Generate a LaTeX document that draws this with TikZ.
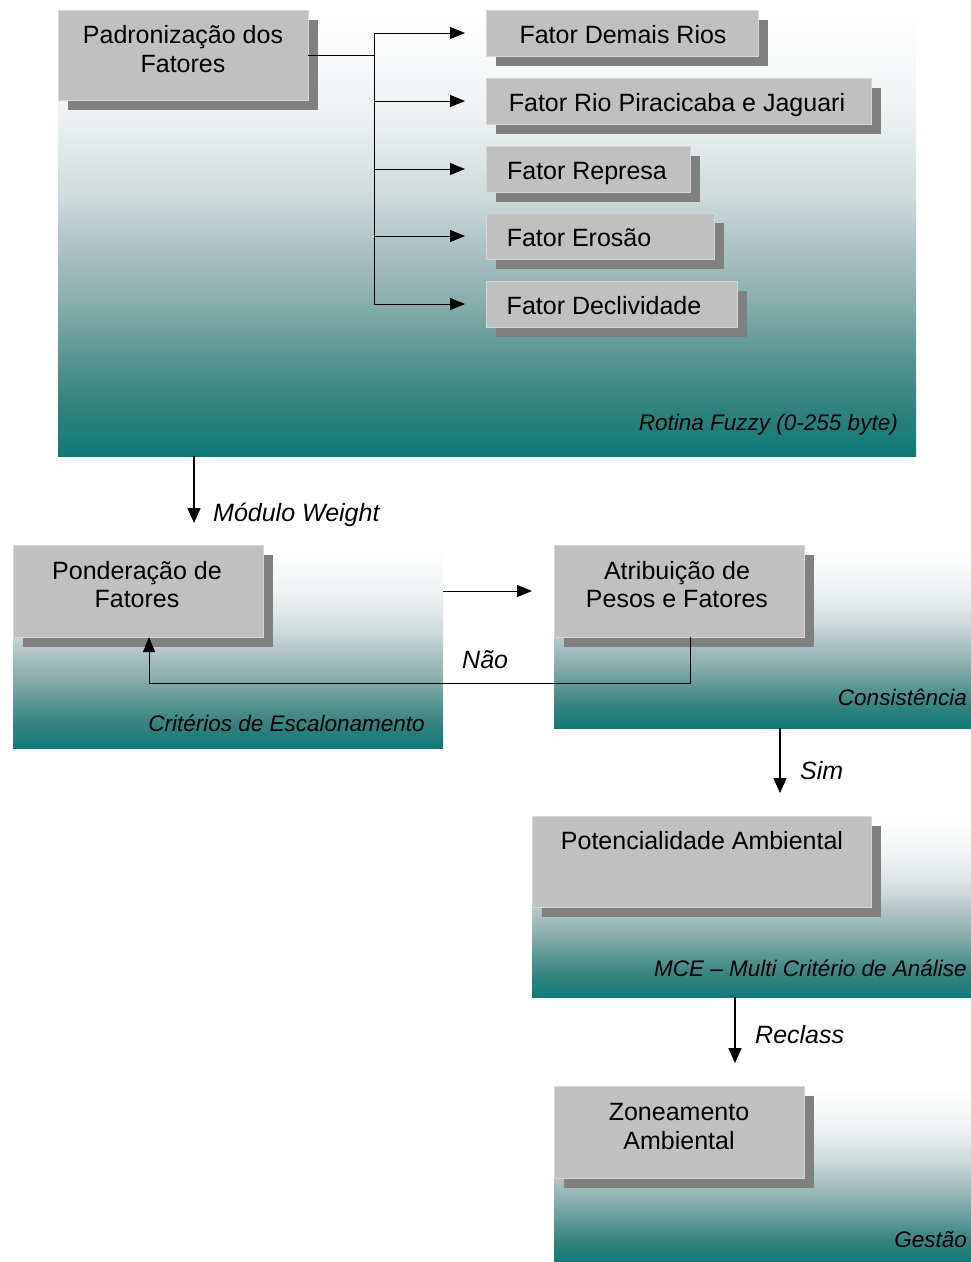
\documentclass[tikz,border=0pt]{standalone}
\usepackage{fontspec}
\setmainfont{Liberation Sans}
\usetikzlibrary{arrows.meta,shadows}
\definecolor{g100}{HTML}{0F7A78}
\definecolor{g87}{HTML}{37847F}
\definecolor{g76}{HTML}{5E9996}
\definecolor{g65}{HTML}{8AAFAD}
\definecolor{g54}{HTML}{AAC0C2}
\definecolor{g42}{HTML}{CDD9DA}
\definecolor{g31}{HTML}{E2E8E9}
\definecolor{g22}{HTML}{EFF3F4}
\definecolor{boxgray}{HTML}{C0C0C0}
\definecolor{boxedge}{HTML}{D6D6D6}
\definecolor{shadowgray}{HTML}{808080}
\pgfdeclareverticalshading{panelgrad}{100bp}{color(0bp)=(g100); color(25bp)=(g100); color(31.5bp)=(g87); color(37bp)=(g76); color(42.5bp)=(g65); color(48bp)=(g54); color(54bp)=(g42); color(59.5bp)=(g31); color(64bp)=(g22); color(75bp)=(white); color(100bp)=(white)}
\tikzset{
  panel/.style={shade, shading=panelgrad, draw=none, inner sep=0pt, outer sep=0pt, anchor=north west},
  box/.style={fill=boxgray, draw=boxedge, line width=0.8pt, inner sep=0pt, outer sep=0pt, anchor=north west,
    drop shadow={shadow xshift=10pt, shadow yshift=-10pt, fill=shadowgray, opacity=1}},
  boxtext/.style={font=\fontsize{25}{29}\selectfont, inner sep=0pt, anchor=base},
  labR/.style={font=\fontsize{22.5}{27}\selectfont\itshape, inner sep=0pt, anchor=base east},
  labL/.style={font=\fontsize{25}{29}\selectfont\itshape, inner sep=0pt, anchor=base west},
  thin/.style={line width=1pt, black},
  arr/.style={line width=1pt, black, -{Triangle[length=15pt, width=12pt]}},
  arrbig/.style={line width=1.6pt, black, -{Triangle[length=15pt, width=13pt]}}
}
\begin{document}
\begin{tikzpicture}[x=1pt,y=-1pt]
\useasboundingbox (0,0) rectangle (971,1262);
% panels
\node[panel, minimum width=858pt, minimum height=444pt] (p1) at (58,12) {};
\node[panel, minimum width=430pt, minimum height=200pt] (p2) at (13,548) {};
\node[panel, minimum width=417pt, minimum height=180pt] (p3) at (554,548) {};
\node[panel, minimum width=439pt, minimum height=179pt] (p4) at (532,818) {};
\node[panel, minimum width=417pt, minimum height=174pt] (p5) at (554,1088) {};
% boxes
\node[box, minimum width=250pt, minimum height=90pt] (padr) at (58,10) {};
\node[box, minimum width=272pt, minimum height=46pt] (f1) at (486,10) {};
\node[box, minimum width=385pt, minimum height=46pt] (f2) at (486,78) {};
\node[box, minimum width=204pt, minimum height=46pt] (f3) at (486,146) {};
\node[box, minimum width=228pt, minimum height=46pt] (f4) at (486,213) {};
\node[box, minimum width=251pt, minimum height=46pt] (f5) at (486,281) {};
\node[box, minimum width=250pt, minimum height=92pt] (pond) at (13,545) {};
\node[box, minimum width=250pt, minimum height=92pt] (attr) at (554,545) {};
\node[box, minimum width=339pt, minimum height=91pt] (pot) at (532,816) {};
\node[box, minimum width=250pt, minimum height=92pt] (zon) at (554,1086) {};
% box texts
\node[boxtext] (padrA) at (183,43) {Padronização dos};
\node[boxtext] (padrB) at (183,72) {Fatores};
\node[boxtext] (f1t) at (623,43) {Fator Demais Rios};
\node[boxtext] (f2t) at (677,111) {Fator Rio Piracicaba e Jaguari};
\node[boxtext] (f3t) at (587,179) {Fator Represa};
\node[boxtext] (f4t) at (579,246) {Fator Erosão};
\node[boxtext] (f5t) at (604,314) {Fator Declividade};
\node[boxtext] (pondA) at (137,579) {Ponderação de};
\node[boxtext] (pondB) at (137,607) {Fatores};
\node[boxtext] (attrA) at (677,579) {Atribuição de};
\node[boxtext] (attrB) at (677,607) {Pesos e Fatores};
\node[boxtext] (potA) at (702,849) {Potencialidade Ambiental};
\node[boxtext] (zonA) at (679,1120) {Zoneamento};
\node[boxtext] (zonB) at (679,1149) {Ambiental};
% panel labels
\node[labR] (l1) at (898,430) {Rotina Fuzzy (0-255 byte)};
\node[labR] (l2) at (425,731) {Critérios de Escalonamento};
\node[labR] (l3) at (967,705) {Consistência};
\node[labR] (l4) at (967,976) {MCE – Multi Critério de Análise};
\node[labR] (l5) at (967,1247) {Gestão};
% connectors: factors
\coordinate (bus) at (374,55);
\draw[thin] (padr.east) -- (bus);
\draw[thin] (bus |- f1.west) -- (bus |- f5.west);
\foreach \f in {f1,f2,f3,f4,f5}{
  \draw[arr, shorten >=21pt] (bus |- \f.west) -- (\f.west);
}
% Modulo Weight
\coordinate (mw) at (194,456);
\draw[arrbig, shorten >=25pt] (mw) -- (mw |- p2.north);
\node[labL] (mwl) at (213,521) {Módulo Weight};
% Ponderacao -> Atribuicao
\draw[arr, shorten >=22pt] (p2.east |- pond.east) -- (attr.west);
% Nao loop
\coordinate (naoA) at ([xshift=11pt]attr.south);
\coordinate (naoB) at ([xshift=11pt]pond.south);
\draw[arr] (naoA) -- ++(0,46) -| (naoB);
\node[labL] (naol) at (462,668) {Não};
% Sim
\coordinate (sim) at (780,728);
\draw[arrbig, shorten >=25pt] (sim) -- (sim |- p4.north);
\node[labL] (siml) at (800,779) {Sim};
% Reclass
\coordinate (rec) at (735,997);
\draw[arrbig, shorten >=25pt] (rec) -- (rec |- p5.north);
\node[labL] (recl) at (755,1043) {Reclass};
\end{tikzpicture}
\end{document}
